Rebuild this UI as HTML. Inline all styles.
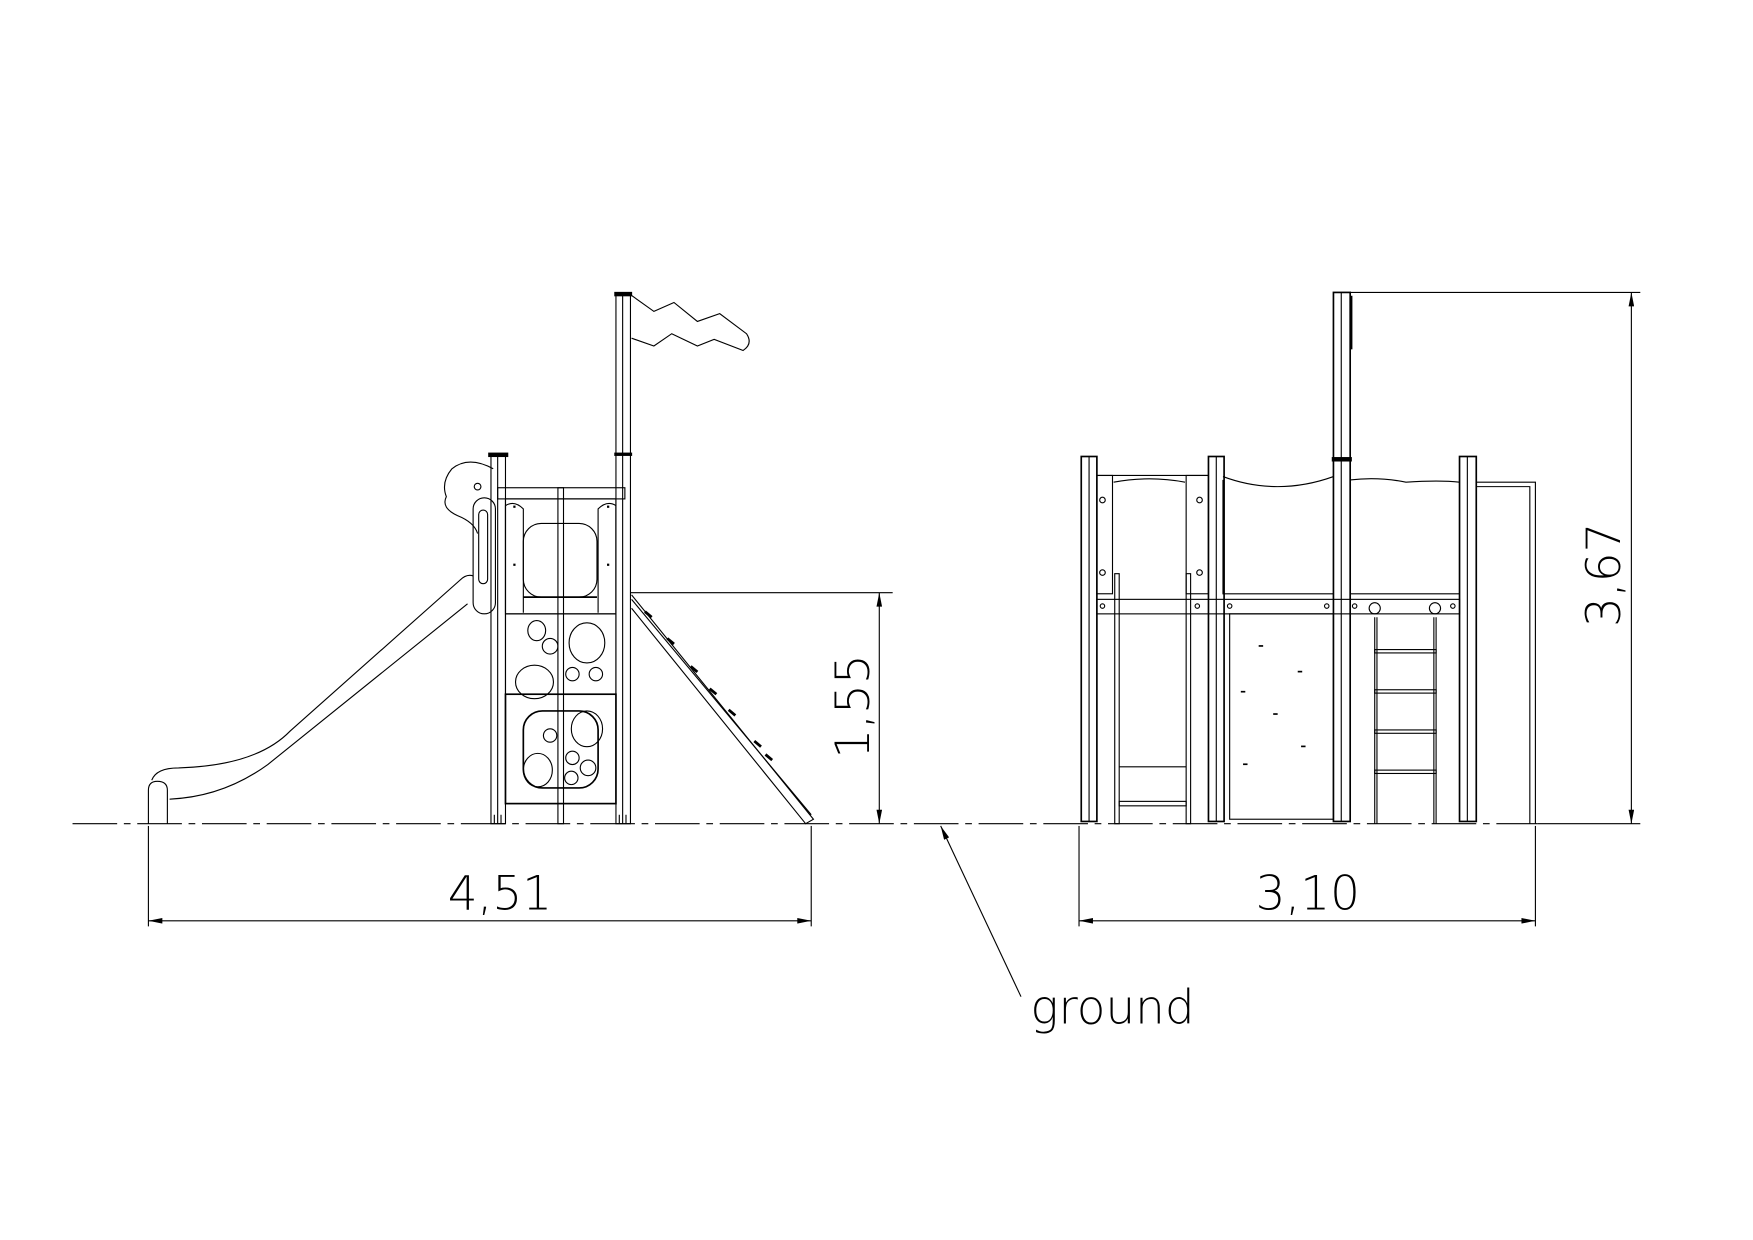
<!DOCTYPE html>
<html><head><meta charset="utf-8"><style>
html,body{margin:0;padding:0;background:#fff;}
svg{display:block;}
text{font-family:"DejaVu Sans","Liberation Sans",sans-serif;font-weight:200;fill:#000;}
</style></head><body>
<svg width="1753" height="1240" viewBox="0 0 1571 1111" preserveAspectRatio="none" xmlns="http://www.w3.org/2000/svg">
<defs>
<marker id="ar" viewBox="0 0 10 4" refX="10" refY="2" markerWidth="14" markerHeight="5" orient="auto-start-reverse" markerUnits="userSpaceOnUse"><path d="M0,0L10,2L0,4Z" fill="#000"/></marker>
</defs>
<g fill="none" stroke="#000" stroke-width="1">
<line x1="65" y1="738" x2="1378" y2="738" stroke-dasharray="40,6,6,6"/>

<!-- LEFT VIEW -->
<path d="M136,699 Q140,688 160,688 Q230,686 260,655 L412,520 Q418,514 424,516"/>
<path d="M152,716 Q200,714 240,685 L419,541"/>
<path d="M133,738 V708 Q133,700 141,700 Q150,700 150,708 V738"/>
<path d="M442,420 Q420,408 405,420 Q395,432 400,445 Q395,455 410,462 Q425,468 428,478"/>
<rect x="424" y="446" width="20" height="104" rx="10"/>
<rect x="429" y="457" width="8" height="66" rx="4"/>
<circle cx="428" cy="436" r="3"/>
<rect x="440" y="408" width="13" height="330"/>
<line x1="446" y1="408" x2="446" y2="738"/>
<rect x="438" y="406" width="17" height="3" fill="#000"/>
<rect x="552" y="263" width="13" height="475"/>
<line x1="558" y1="263" x2="558" y2="738"/>
<rect x="551" y="262" width="15" height="3" fill="#000"/>
<rect x="551" y="406" width="15" height="2" fill="#000"/>
<rect x="446" y="437" width="114" height="10"/>
<rect x="453" y="447" width="99" height="103"/>
<rect x="453" y="550" width="99" height="72"/>
<rect x="453" y="622" width="99" height="98" stroke-width="1.5"/>
<path d="M453,549 V453 Q461,448 469,456 V549"/>
<path d="M552,549 V453 Q544,448 536,456 V549"/>
<rect x="469" y="469" width="66" height="66" rx="16"/>
<line x1="469" y1="535" x2="535" y2="535" stroke-width="1.5"/>
<rect x="500" y="437" width="5" height="301"/>
<ellipse cx="481" cy="565" rx="8" ry="9"/>
<circle cx="493" cy="579" r="7"/>
<ellipse cx="526" cy="576" rx="16" ry="18"/>
<ellipse cx="479" cy="611" rx="17" ry="15"/>
<circle cx="513" cy="604" r="6"/>
<circle cx="534" cy="604" r="6"/>
<rect x="469" y="637" width="67" height="69" rx="17" stroke-width="1.5"/>
<circle cx="493" cy="659" r="6"/>
<ellipse cx="526" cy="653" rx="14" ry="16"/>
<ellipse cx="482" cy="690" rx="13" ry="15"/>
<circle cx="513" cy="679" r="6"/>
<circle cx="527" cy="688" r="7"/>
<circle cx="512" cy="697" r="6"/>
<line x1="443" y1="730" x2="443" y2="738"/><line x1="449" y1="730" x2="449" y2="738"/>
<line x1="555" y1="730" x2="555" y2="738"/><line x1="561" y1="730" x2="561" y2="738"/>
<path d="M565,264 L586,279 L604,271 L625,288 L645,281 L669,299 Q675,308 666,314 L640,304 L625,310 L602,299 L586,310 L566,303"/>
<path d="M566,533 L729,734 L722,738 L566,545"/>
<path d="M566,537 L727,730"/>
<g stroke-width="2.5">
<line x1="578" y1="548" x2="584" y2="553"/><line x1="598" y1="572" x2="604" y2="577"/><line x1="619" y1="597" x2="625" y2="602"/><line x1="636" y1="617" x2="642" y2="622"/><line x1="653" y1="636" x2="659" y2="641"/><line x1="676" y1="664" x2="682" y2="669"/><line x1="686" y1="676" x2="692" y2="681"/>
</g>
<line x1="565" y1="531" x2="800" y2="531"/>
<line x1="788" y1="531" x2="788" y2="738" marker-start="url(#ar)" marker-end="url(#ar)"/>
<line x1="133" y1="740" x2="133" y2="830"/>
<line x1="727" y1="740" x2="727" y2="830"/>
<line x1="133" y1="825" x2="727" y2="825" marker-start="url(#ar)" marker-end="url(#ar)"/>
<line x1="915" y1="893" x2="843" y2="740" marker-end="url(#ar)"/>

<!-- RIGHT VIEW -->
<path d="M1323,432 H1376 V738 M1323,436 H1371 V738"/>
<path d="M983,426 H1083"/>
<path d="M998,432 Q1030,426 1062,432"/>
<rect x="983" y="426" width="14" height="106"/>
<rect x="1063" y="426" width="20" height="106"/>
<path d="M1096,427 Q1120,436 1145,436 Q1170,436 1195,427 M1096,430 V532 H1195"/>
<path d="M1210,430 Q1235,427 1260,432 Q1290,430 1308,432 M1210,532 H1308"/>
<rect x="983" y="537" width="325" height="13"/>
<circle cx="988" cy="543" r="2"/><circle cx="1073" cy="543" r="2"/><circle cx="1102" cy="543" r="2"/><circle cx="1189" cy="543" r="2"/><circle cx="1214" cy="543" r="2"/><circle cx="1302" cy="543" r="2"/>
<circle cx="988" cy="448" r="2.5"/><circle cx="988" cy="513" r="2.5"/><circle cx="1075" cy="448" r="2.5"/><circle cx="1075" cy="513" r="2.5"/>
<rect x="999" y="514" width="4" height="224"/>
<rect x="1063" y="514" width="4" height="224"/>
<line x1="1003" y1="687" x2="1063" y2="687"/>
<rect x="1003" y="718" width="60" height="4"/>
<rect x="1102" y="550" width="93" height="184"/>
<line x1="1232" y1="553" x2="1232" y2="738"/><line x1="1234" y1="553" x2="1234" y2="738"/>
<line x1="1285" y1="553" x2="1285" y2="738"/><line x1="1287" y1="553" x2="1287" y2="738"/>
<circle cx="1232" cy="545" r="5"/><circle cx="1286" cy="545" r="5"/>
<rect x="1232" y="582" width="55" height="3"/><rect x="1232" y="618" width="55" height="3"/><rect x="1232" y="654" width="55" height="3"/><rect x="1232" y="690" width="55" height="3"/>
<rect x="969" y="409" width="14" height="327" stroke-width="1.5"/><line x1="976" y1="409" x2="976" y2="736"/>
<rect x="1083" y="409" width="14" height="327" stroke-width="1.5"/><line x1="1090" y1="409" x2="1090" y2="736"/>
<rect x="1195" y="262" width="15" height="474" stroke-width="1.5"/><line x1="1202" y1="262" x2="1202" y2="736"/>
<rect x="1308" y="409" width="15" height="327" stroke-width="1.5"/><line x1="1315" y1="409" x2="1315" y2="736"/>
<rect x="1194" y="410" width="17" height="3" fill="#000"/>
<line x1="1211" y1="265" x2="1211" y2="313" stroke-width="2"/>
<line x1="1210" y1="262" x2="1470" y2="262"/>
<line x1="1378" y1="738" x2="1470" y2="738"/>
<line x1="1462" y1="262" x2="1462" y2="738" marker-start="url(#ar)" marker-end="url(#ar)"/>
<line x1="967" y1="740" x2="967" y2="830"/>
<line x1="1376" y1="740" x2="1376" y2="830"/>
<line x1="967" y1="825" x2="1376" y2="825" marker-start="url(#ar)" marker-end="url(#ar)"/>
</g>
<g fill="#000">
<rect x="460" y="453" width="2" height="2"/><rect x="544" y="453" width="2" height="2"/><rect x="460" y="505" width="2" height="2"/><rect x="544" y="505" width="2" height="2"/>
<rect x="1128" y="578" width="4" height="1.5"/><rect x="1163" y="601" width="4" height="1.5"/><rect x="1112" y="619" width="4" height="1.5"/><rect x="1141" y="639" width="4" height="1.5"/><rect x="1166" y="668" width="4" height="1.5"/><rect x="1114" y="684" width="4" height="1.5"/>
</g>
<text x="448" y="815" font-size="42" text-anchor="middle">4,51</text>
<text x="1172" y="815" font-size="42" text-anchor="middle">3,10</text>
<text x="997" y="917" font-size="42" text-anchor="middle">ground</text>
<text transform="translate(779,633) rotate(-90)" font-size="42" text-anchor="middle">1,55</text>
<text transform="translate(1452,515) rotate(-90)" font-size="42" text-anchor="middle">3,67</text>
</svg>
</body></html>
